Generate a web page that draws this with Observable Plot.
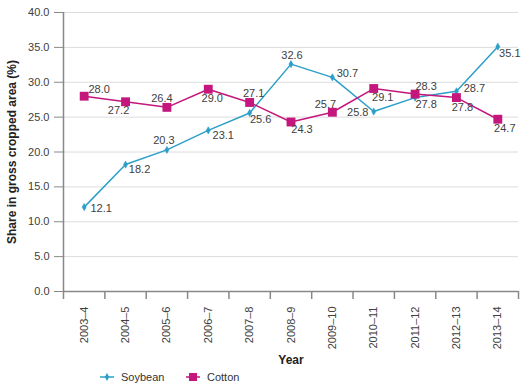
<!DOCTYPE html>
<html>
<head>
<meta charset="utf-8">
<script src="https://cdn.jsdelivr.net/npm/d3@7"></script>
<script src="https://cdn.jsdelivr.net/npm/@observablehq/plot@0.6"></script>
<style>
  html, body { margin: 0; padding: 0; background: #fff; }
  body { width: 530px; font-family: "Liberation Sans", Arial, sans-serif; }
  #legend { position: relative; height: 17px; font-size: 11px; color: #333; }
  #legend .item { position: absolute; top: 0; display: flex; align-items: center; height: 17px; }
  #legend svg { margin-right: 7px; }
</style>
</head>
<body>
<div id="chart"></div>
<div id="legend"></div>
<script>
// ---- data ----
const years = ["2003–4","2004–5","2005–6","2006–7","2007–8","2008–9","2009–10","2010–11","2011–12","2012–13","2013–14"];
const soybean = [12.1, 18.2, 20.3, 23.1, 25.6, 32.6, 30.7, 25.8, 27.8, 28.7, 35.1];
const cotton  = [28.0, 27.2, 26.4, 29.0, 27.1, 24.3, 25.7, 29.1, 28.3, 27.8, 24.7];
const yTicks = [0, 5, 10, 15, 20, 25, 30, 35, 40];

// ---- label placement (layout only) ----
const soyLabelDx = [17, 14, -3, 15, 11, 1, 15, -16, 11, 18, 12];
const soyLabelDy = [1, 5, -9, 5, 7, -9, -4, 1, 7, -3, 7];
const cotLabelDx = [15, -7, -5, 4, 4, 11, -7, 9, 11, 6, 7];
const cotLabelDy = [-7, 9, -9, 9, -9, 7, -8, 9, -8, 10, 9];

const soyColor = "#2b9fc8";
const cotColor = "#c4167c";
const textColor = "#404040";
const axisColor = "#888";

const idx = years.map((_, i) => i);
const soyData = idx.map(i => ({i, v: soybean[i], dx: soyLabelDx[i], dy: soyLabelDy[i]}));
const cotData = idx.map(i => ({i, v: cotton[i], dx: cotLabelDx[i], dy: cotLabelDy[i]}));
const bounds = d3.range(-0.5, years.length, 1);

function labels(data) {
  return data.map(d => Plot.text([d], {
    x: "i", y: "v", text: d => d.v.toFixed(1),
    dx: d.dx, dy: d.dy, fill: textColor, fontSize: 11, textAnchor: "middle"
  }));
}

const chart = Plot.plot({
  width: 530,
  height: 368,
  marginLeft: 63,
  marginRight: 12,
  marginTop: 12,
  marginBottom: 77,
  style: { fontFamily: '"Liberation Sans", Arial, sans-serif', fontSize: "11px", color: textColor, background: "#fff" },
  x: { domain: [-0.5, years.length - 0.5], axis: null },
  y: { domain: [0, 40], axis: null },
  marks: [
    Plot.gridY(yTicks.filter(t => t > 0), { stroke: "#dcdcdc", strokeOpacity: 1, strokeWidth: 1 }),
    Plot.axisY(yTicks, { tickSize: 9, tickPadding: 5, tickFormat: d => d.toFixed(1), stroke: axisColor, fill: textColor, fontSize: 11, label: null }),
    Plot.ruleX([-0.5], { stroke: axisColor, strokeWidth: 1.5 }),
    Plot.ruleY([0], { stroke: axisColor, strokeWidth: 1.5 }),
    Plot.axisX(bounds, { tickSize: 8, tickFormat: () => "", stroke: axisColor, strokeWidth: 1.5, label: null }),
    Plot.text(idx, { x: d => d, text: d => years[d], frameAnchor: "bottom", rotate: -90, textAnchor: "end", lineAnchor: "middle", dy: 15, fill: textColor, fontSize: 11 }),
    Plot.text(["Share in gross cropped area (%)"], { frameAnchor: "left", textAnchor: "middle", rotate: -90, dx: -51, fontWeight: "bold", fontSize: 12, fill: "#222", lineAnchor: "middle" }),
    Plot.text(["Year"], { frameAnchor: "bottom", dy: 69, lineAnchor: "middle", fontWeight: "bold", fontSize: 12, fill: "#222" }),
    Plot.line(soyData, { x: "i", y: "v", stroke: soyColor, strokeWidth: 1.5 }),
    Plot.line(cotData, { x: "i", y: "v", stroke: cotColor, strokeWidth: 1.5 }),
    Plot.dot(soyData, { x: "i", y: "v", symbol: "diamond", r: 2.2, fill: soyColor, stroke: soyColor, strokeWidth: 0.5 }),
    Plot.dot(cotData, { x: "i", y: "v", symbol: "square", r: 5, fill: cotColor, stroke: "none" }),
    ...labels(soyData),
    ...labels(cotData)
  ]
});
document.getElementById("chart").appendChild(chart);

// ---- legend ----
const legendItems = [
  { name: "Soybean", color: soyColor, symbol: d3.symbolDiamond, size: 18, left: 100 },
  { name: "Cotton", color: cotColor, symbol: d3.symbolSquare, size: 64, left: 186 }
];
const legend = d3.select("#legend");
for (const it of legendItems) {
  const item = legend.append("div").attr("class", "item").style("left", it.left + "px");
  const s = item.append("svg").attr("width", 14).attr("height", 12);
  s.append("line").attr("x1", 0).attr("x2", 14).attr("y1", 6).attr("y2", 6).attr("stroke", it.color).attr("stroke-width", 1.5);
  s.append("path").attr("d", d3.symbol(it.symbol, it.size)()).attr("transform", "translate(7,6)").attr("fill", it.color);
  item.append("span").text(it.name);
}
</script>
</body>
</html>
